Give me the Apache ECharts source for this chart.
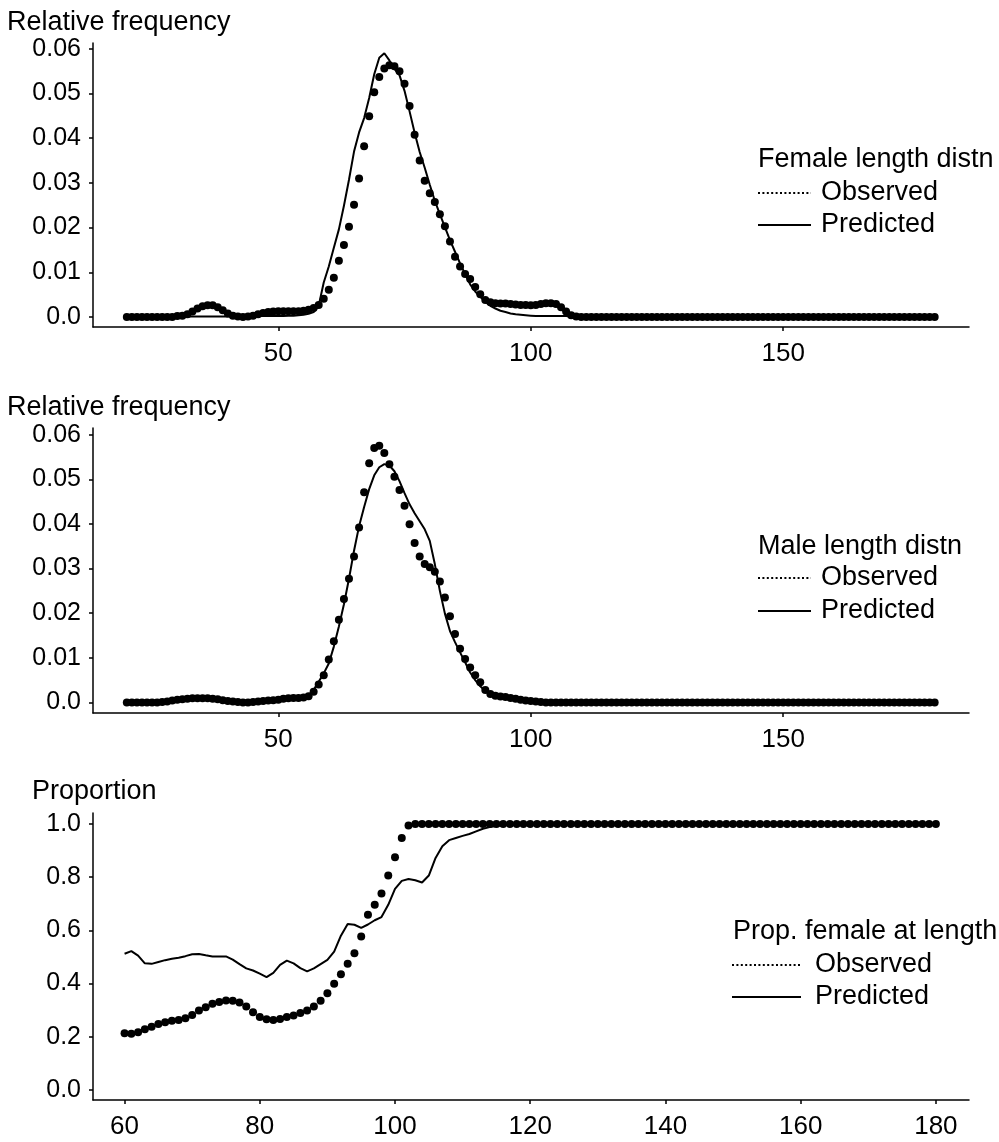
<!DOCTYPE html>
<html>
<head>
<meta charset="utf-8">
<script src="https://cdn.jsdelivr.net/npm/echarts@6/dist/echarts.min.js"></script>
<style>
html,body{margin:0;padding:0;background:#fff;}
#chart{width:999px;height:1142px;}
</style>
</head>
<body>
<div id="chart"></div>
<script>
// ---------- DATA ----------
// Length bins (cm) for panels 1 and 2
const lengthsFM = [
  20,21,22,23,24,25,26,27,28,29,
  30,31,32,33,34,35,36,37,38,39,
  40,41,42,43,44,45,46,47,48,49,
  50,51,52,53,54,55,56,57,58,59,
  60,61,62,63,64,65,66,67,68,69,
  70,71,72,73,74,75,76,77,78,79,
  80,81,82,83,84,85,86,87,88,89,
  90,91,92,93,94,95,96,97,98,99,
  100,101,102,103,104,105,106,107,108,109,
  110,111,112,113,114,115,116,117,118,119,
  120,121,122,123,124,125,126,127,128,129,
  130,131,132,133,134,135,136,137,138,139,
  140,141,142,143,144,145,146,147,148,149,
  150,151,152,153,154,155,156,157,158,159,
  160,161,162,163,164,165,166,167,168,169,
  170,171,172,173,174,175,176,177,178,179,
  180
];
// Female length distribution, observed
const femaleObserved = [
  0,0,0,0,0,0,0,0,0,0,
  0.0002,0.0003,0.0006,0.0012,0.0019,0.0024,0.0026,0.0026,0.0022,0.0015,
  0.0008,0.0003,0.0001,0.0000,0.0001,0.0003,0.0006,0.0009,0.0011,0.0012,
  0.0013,0.0013,0.0013,0.0013,0.0013,0.0014,0.0016,0.0020,0.0027,0.0041,
  0.0061,0.0088,0.0126,0.0161,0.0202,0.0251,0.0310,0.0382,0.0449,0.0503,
  0.0537,0.0556,0.0563,0.0561,0.0550,0.0522,0.0472,0.0408,0.0350,0.0305,
  0.0277,0.0257,0.0230,0.0203,0.0169,0.0135,0.0113,0.0096,0.0085,0.0067,
  0.0051,0.0038,0.0033,0.0031,0.0030,0.0030,0.0029,0.0028,0.0027,0.0027,
  0.0026,0.0027,0.0029,0.0031,0.0031,0.0029,0.0022,0.0012,0.0004,0.0001,
  0,0,0,0,0,0,0,0,0,0,
  0,0,0,0,0,0,0,0,0,0,
  0,0,0,0,0,0,0,0,0,0,
  0,0,0,0,0,0,0,0,0,0,
  0,0,0,0,0,0,0,0,0,0,
  0,0,0,0,0,0,0,0,0,0,
  0,0,0,0,0,0,0,0,0,0,
  0
];
// Female length distribution, predicted
const femalePredicted = [
  0,0,0,0,0,0,0,0,0,0,
  0.0001,0.0001,0.0001,0.0001,0.0001,0.0001,0.0001,0.0001,0.0001,0.0001,
  0.0001,0.0001,0.0002,0.0002,0.0002,0.0002,0.0002,0.0002,0.0002,0.0002,
  0.0002,0.0002,0.0003,0.0003,0.0004,0.0005,0.0007,0.0011,0.0025,0.0077,
  0.0113,0.0155,0.0196,0.0249,0.0307,0.0370,0.0413,0.0445,0.0490,0.0543,
  0.0580,0.0590,0.0574,0.0555,0.0541,0.0506,0.0460,0.0412,0.0369,0.0334,
  0.0296,0.0260,0.0230,0.0201,0.0172,0.0146,0.0120,0.0096,0.0073,0.0057,
  0.0045,0.0034,0.0025,0.0019,0.0014,0.0011,0.0008,0.0006,0.0005,0.0004,
  0.0003,0.0002,0.0002,0.0002,0.0002,0.0002,0.0002,0.0002,0.0001,0.0001,
  0,0,0,0,0,0,0,0,0,0,
  0,0,0,0,0,0,0,0,0,0,
  0,0,0,0,0,0,0,0,0,0,
  0,0,0,0,0,0,0,0,0,0,
  0,0,0,0,0,0,0,0,0,0,
  0,0,0,0,0,0,0,0,0,0,
  0,0,0,0,0,0,0,0,0,0,
  0
];
// Male length distribution, observed
const maleObserved = [
  0,0,0,0,0,0,0,0.0001,0.0002,0.0004,
  0.0006,0.0007,0.0008,0.0009,0.0009,0.0009,0.0009,0.0008,0.0007,0.0005,
  0.0003,0.0002,0.0001,0.0000,0.0000,0.0001,0.0002,0.0003,0.0004,0.0005,
  0.0006,0.0008,0.0009,0.0010,0.0010,0.0011,0.0014,0.0024,0.0040,0.0061,
  0.0096,0.0137,0.0185,0.0232,0.0277,0.0327,0.0392,0.0471,0.0536,0.0570,
  0.0575,0.0559,0.0534,0.0506,0.0476,0.0441,0.0399,0.0357,0.0327,0.0310,
  0.0303,0.0293,0.0271,0.0235,0.0193,0.0153,0.0120,0.0097,0.0078,0.0061,
  0.0045,0.0028,0.0019,0.0015,0.0013,0.0012,0.0010,0.0008,0.0006,0.0004,
  0.0003,0.0002,0.0001,0,0,0,0,0,0,0,
  0,0,0,0,0,0,0,0,0,0,
  0,0,0,0,0,0,0,0,0,0,
  0,0,0,0,0,0,0,0,0,0,
  0,0,0,0,0,0,0,0,0,0,
  0,0,0,0,0,0,0,0,0,0,
  0,0,0,0,0,0,0,0,0,0,
  0,0,0,0,0,0,0,0,0,0,
  0
];
// Male length distribution, predicted
const malePredicted = [
  0,0,0,0,0,0,0,0.0001,0.0002,0.0003,
  0.0005,0.0006,0.0007,0.0008,0.0008,0.0008,0.0008,0.0007,0.0006,0.0005,
  0.0003,0.0002,0.0001,0.0001,0.0001,0.0001,0.0002,0.0003,0.0004,0.0005,
  0.0006,0.0007,0.0008,0.0009,0.0010,0.0012,0.0016,0.0028,0.0046,0.0065,
  0.0087,0.0125,0.0170,0.0220,0.0277,0.0340,0.0395,0.0438,0.0478,0.0509,
  0.0527,0.0534,0.0531,0.0518,0.0496,0.0469,0.0444,0.0424,0.0406,0.0388,
  0.0362,0.0310,0.0250,0.0199,0.0160,0.0135,0.0112,0.0090,0.0067,0.0050,
  0.0036,0.0026,0.0019,0.0016,0.0013,0.0012,0.0010,0.0008,0.0006,0.0005,
  0.0004,0.0003,0.0002,0.0001,0,0,0,0,0,0,
  0,0,0,0,0,0,0,0,0,0,
  0,0,0,0,0,0,0,0,0,0,
  0,0,0,0,0,0,0,0,0,0,
  0,0,0,0,0,0,0,0,0,0,
  0,0,0,0,0,0,0,0,0,0,
  0,0,0,0,0,0,0,0,0,0,
  0,0,0,0,0,0,0,0,0,0,
  0
];
// Length bins for panel 3
const lengthsProp = [
  60,61,62,63,64,65,66,67,68,69,
  70,71,72,73,74,75,76,77,78,79,
  80,81,82,83,84,85,86,87,88,89,
  90,91,92,93,94,95,96,97,98,99,
  100,101,102,103,104,105,106,107,108,109,
  110,111,112,113,114,115,116,117,118,119,
  120,121,122,123,124,125,126,127,128,129,
  130,131,132,133,134,135,136,137,138,139,
  140,141,142,143,144,145,146,147,148,149,
  150,151,152,153,154,155,156,157,158,159,
  160,161,162,163,164,165,166,167,168,169,
  170,171,172,173,174,175,176,177,178,179,
  180
];
// Proportion female at length, observed
const propObserved = [
  0.213,0.211,0.217,0.228,0.238,0.248,0.255,0.260,0.263,0.270,
  0.282,0.299,0.311,0.324,0.331,0.336,0.335,0.329,0.314,0.292,
  0.274,0.266,0.263,0.267,0.274,0.280,0.289,0.299,0.314,0.335,
  0.364,0.399,0.435,0.474,0.514,0.577,0.659,0.696,0.738,0.806,
  0.875,0.947,0.994,1,1,1,1,1,1,1,
  1,1,1,1,1,1,1,1,1,1,
  1,1,1,1,1,1,1,1,1,1,
  1,1,1,1,1,1,1,1,1,1,
  1,1,1,1,1,1,1,1,1,1,
  1,1,1,1,1,1,1,1,1,1,
  1,1,1,1,1,1,1,1,1,1,
  1,1,1,1,1,1,1,1,1,1,
  1
];
// Proportion female at length, predicted
const propPredicted = [
  0.512,0.522,0.505,0.476,0.474,0.481,0.488,0.493,0.497,0.503,
  0.510,0.511,0.506,0.502,0.502,0.502,0.490,0.473,0.457,0.449,
  0.437,0.424,0.440,0.470,0.486,0.476,0.458,0.446,0.457,0.473,
  0.489,0.520,0.580,0.624,0.621,0.609,0.622,0.638,0.650,0.696,
  0.756,0.786,0.793,0.788,0.780,0.806,0.872,0.916,0.939,0.947,
  0.955,0.962,0.972,0.982,0.988,0.992,0.995,0.998,1,1,
  1,1,1,1,1,1,1,1,1,1,
  1,1,1,1,1,1,1,1,1,1,
  1,1,1,1,1,1,1,1,1,1,
  1,1,1,1,1,1,1,1,1,1,
  1,1,1,1,1,1,1,1,1,1,
  1,1,1,1,1,1,1,1,1,1,
  1
];
// Tick values
const xTicksFM = [50, 100, 150];
const yTicksFreq = [0, 0.01, 0.02, 0.03, 0.04, 0.05, 0.06];
const xTicksProp = [60, 80, 100, 120, 140, 160, 180];
const yTicksProp = [0, 0.2, 0.4, 0.6, 0.8, 1.0];

// ---------- CHART ----------
const FONT = '"Liberation Sans", Arial, Helvetica, sans-serif';
const zip = (xs, ys) => xs.map((x, i) => [x, ys[i]]);

function xAxisCfg(grid, min, max, ticks) {
  return {
    type: 'value', gridIndex: grid, min: min, max: max,
    axisLine: { show: true, onZero: false, lineStyle: { color: '#000', width: 1.5 } },
    axisTick: { show: true, customValues: ticks, length: 4, lineStyle: { color: '#000', width: 1.5 } },
    axisLabel: { customValues: ticks, color: '#000', fontSize: 26, fontFamily: FONT, margin: 14 },
    splitLine: { show: false }
  };
}
function yAxisCfg(grid, min, max, ticks, digits) {
  return {
    type: 'value', gridIndex: grid, min: min, max: max,
    axisLine: { show: true, onZero: false, lineStyle: { color: '#000', width: 1.5 } },
    axisTick: { show: true, customValues: ticks, length: 4, lineStyle: { color: '#000', width: 1.5 } },
    axisLabel: {
      customValues: ticks, color: '#000', fontSize: 25, fontFamily: FONT, margin: 12,
      formatter: v => (Math.abs(v) < 1e-9 ? '0.0' : v.toFixed(digits))
    },
    splitLine: { show: false }
  };
}
function obsSeries(idx, data) {
  return {
    name: 'Observed', type: 'line', xAxisIndex: idx, yAxisIndex: idx, data: data,
    symbol: 'circle', symbolSize: 8, showAllSymbol: true,
    itemStyle: { color: '#000' },
    lineStyle: { opacity: 0, width: 0, color: '#000' },
    z: 3, silent: true
  };
}
function predSeries(idx, data) {
  return {
    name: 'Predicted', type: 'line', xAxisIndex: idx, yAxisIndex: idx, data: data,
    symbol: 'none', itemStyle: { color: '#000' },
    lineStyle: { color: '#000', width: 2 },
    z: 4, silent: true
  };
}
function legendCfg(left, top, itemWidth, textPad, gap) {
  return {
    orient: 'vertical', left: left, top: top, padding: 0, itemGap: gap,
    itemWidth: itemWidth, itemHeight: 14, selectedMode: false,
    itemStyle: { opacity: 0 },
    textStyle: { color: '#000', fontSize: 27, fontFamily: FONT, lineHeight: 30, padding: [0, 0, 0, textPad] },
    data: [
      { name: 'Observed', lineStyle: { type: [2, 2.4], width: 2, color: '#000', opacity: 1 } },
      { name: 'Predicted', lineStyle: { type: 'solid', width: 2, color: '#000', opacity: 1 } }
    ]
  };
}
function titleCfg(text, left, top) {
  return { text: text, left: left, top: top, padding: 0,
    textStyle: { color: '#000', fontSize: 27, fontWeight: 'normal', fontFamily: FONT } };
}

const option = {
  animation: false,
  backgroundColor: '#fff',
  title: [
    titleCfg('Relative frequency', 7, 9),
    titleCfg('Relative frequency', 7, 394),
    titleCfg('Proportion', 32, 778),
    titleCfg('Female length distn', 758, 146),
    titleCfg('Male length distn', 758, 533),
    titleCfg('Prop. female at length', 733, 918)
  ],
  legend: [
    legendCfg(757, 178, 53, 5, 2),
    legendCfg(757, 563, 53, 5, 3),
    legendCfg(731, 950, 69, 9, 2)
  ],
  grid: [
    { left: 93, right: 30, top: 43, height: 284 },
    { left: 93, right: 30, top: 428, height: 285 },
    { left: 93, right: 30, top: 813, height: 287 }
  ],
  xAxis: [
    xAxisCfg(0, 13.3, 186.8, xTicksFM),
    xAxisCfg(1, 13.3, 186.8, xTicksFM),
    xAxisCfg(2, 55.33, 184.9, xTicksProp)
  ],
  yAxis: [
    yAxisCfg(0, -0.00224, 0.0613, yTicksFreq, 2),
    yAxisCfg(1, -0.00238, 0.0615, yTicksFreq, 2),
    yAxisCfg(2, -0.0376, 1.041, yTicksProp, 1)
  ],
  series: [
    obsSeries(0, zip(lengthsFM, femaleObserved)),
    predSeries(0, zip(lengthsFM, femalePredicted)),
    obsSeries(1, zip(lengthsFM, maleObserved)),
    predSeries(1, zip(lengthsFM, malePredicted)),
    obsSeries(2, zip(lengthsProp, propObserved)),
    predSeries(2, zip(lengthsProp, propPredicted))
  ]
};

const chart = echarts.init(document.getElementById('chart'), null, { renderer: 'canvas' });
chart.setOption(option);
</script>
</body>
</html>
